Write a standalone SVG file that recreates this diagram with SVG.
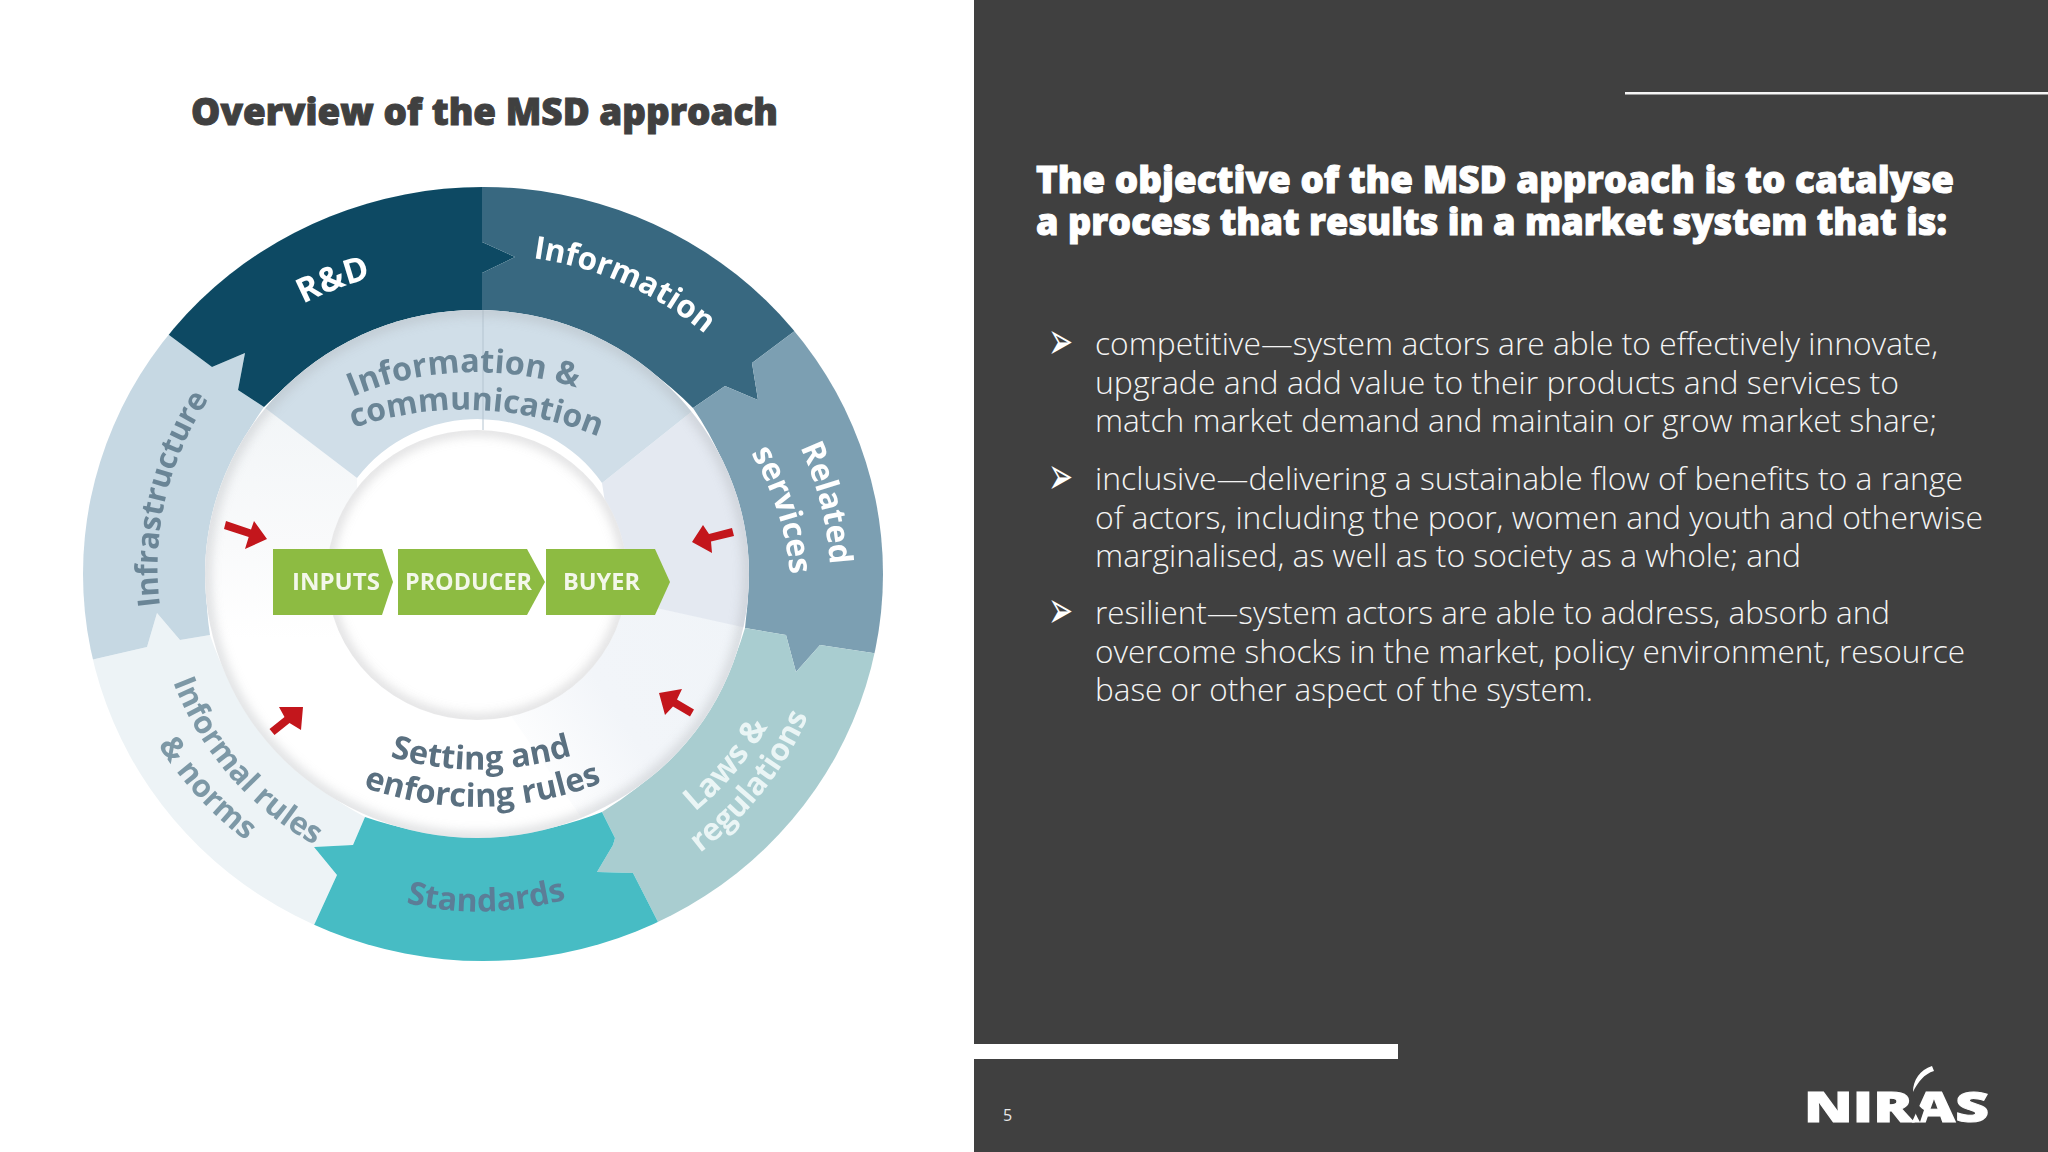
<svg xmlns="http://www.w3.org/2000/svg" xmlns:xlink="http://www.w3.org/1999/xlink" width="2048" height="1152" viewBox="0 0 2048 1152">
<style>
.t{font-family:"Open Sans","Liberation Sans",sans-serif}
.w{font-weight:700;fill:#fff}
.g{font-weight:700;fill:#6b8596}
.b{font-family:"Open Sans","Liberation Sans",sans-serif;font-weight:300;font-size:32px;fill:#f4f4f4}
.h{font-family:"Open Sans","Liberation Sans",sans-serif;font-weight:800;font-size:37px;fill:#fff;stroke:#fff;stroke-width:1px}
.m{font-family:"DejaVu Sans",sans-serif;font-size:30px;fill:#fff}
.c{font-family:"Open Sans","Liberation Sans",sans-serif;font-weight:700;font-size:23px;fill:#f3f7ea}
</style>
<defs>
<filter id="soft" x="-5%" y="-5%" width="110%" height="110%"><feGaussianBlur stdDeviation="0.7"/></filter>
<filter id="sh" x="-10%" y="-10%" width="120%" height="120%"><feGaussianBlur stdDeviation="6"/></filter>
<clipPath id="outer"><ellipse cx="483" cy="574" rx="400" ry="387"/></clipPath>
<clipPath id="mid"><ellipse cx="477" cy="574" rx="272" ry="264"/></clipPath>
<clipPath id="hole"><ellipse cx="477" cy="575" rx="150" ry="145"/></clipPath>
<linearGradient id="gl" x1="0" y1="0" x2="0" y2="1"><stop offset="0" stop-color="#f2f5f7"/><stop offset="0.6" stop-color="#f9fafb"/><stop offset="1" stop-color="#ffffff"/></linearGradient>
<linearGradient id="gr" x1="1" y1="0" x2="0" y2="0.6"><stop offset="0" stop-color="#f0f4f8"/><stop offset="0.6" stop-color="#f2f5f9"/><stop offset="1" stop-color="#ffffff"/></linearGradient>
<path id="pRD" d="M303,304 A328 316 0 0 1 375,277"/>
<path id="pInfo" d="M533,258 A334 322 0 0 1 716,344"/>
<path id="pRel" d="M800,447 A347 335 0 0 1 830,568"/>
<path id="pSer" d="M751,453 A303 292 0 0 1 790,575"/>
<path id="pLaw" d="M695,812 A326 315 0 0 0 768,726"/>
<path id="pReg" d="M700,853 A355 343 0 0 0 810,712"/>
<path id="pStd" d="M406,903 Q484,922 568,899"/>
<path id="pInf" d="M173,682 A326 315 0 0 0 318,847"/>
<path id="pNor" d="M158,745 A364 352 0 0 0 252,845"/>
<path id="pStr" d="M160,606 A324 313 0 0 1 208,400"/>
<path id="pIC1" d="M352,397 Q465,350 590,392"/>
<path id="pIC2" d="M353,428 Q477,387 602,438"/>
<path id="pSet" d="M390,757 Q480,783 574,755"/>
<path id="pEnf" d="M363,787 Q482,829 604,782"/>
</defs>
<rect id="bg" width="2048" height="1152" fill="#ffffff"/>
<g id="panel">
<rect x="974" y="0" width="1074" height="1152" fill="#404040"/>
<rect x="974" y="1044" width="424" height="15" fill="#ffffff"/>
<rect x="1625" y="92" width="423" height="2.5" fill="#f5f5f5"/>
</g>
<text id="title" x="191" y="125" font-family="'Open Sans','Liberation Sans',sans-serif" font-weight="800" font-size="37" fill="#404040" stroke="#404040" stroke-width="1" textLength="587" lengthAdjust="spacingAndGlyphs">Overview of the MSD approach</text>
<g id="wheel" filter="url(#soft)">
<g clip-path="url(#outer)">
<g id="n-informal"><path d="M308,937 L315,923 337,875 314,847 353,845 365,817 A330 320 0 0 1 210,635 L180,640 157,613 147,647 95,659 80,663 A340 330 0 0 0 308,937 Z" fill="#edf3f6"/>
<text class="t" font-size="31" font-weight="700" fill="#7d98a6"><textPath xlink:href="#pInf" href="#pInf">Informal rules</textPath></text>
<text class="t" font-size="31" font-weight="700" fill="#7d98a6"><textPath xlink:href="#pNor" href="#pNor">&amp; norms</textPath></text></g>
<g id="n-infrastructure"><path d="M80,663 A340 330 0 0 1 157,326 L169,335 212,367 245,353 238,390 264,407 A330 320 0 0 0 210,635 L180,640 157,613 147,647 95,659 Z" fill="#c6d8e3"/>
<text class="t g" font-size="30.5"><textPath xlink:href="#pStr" href="#pStr">Infrastructure</textPath></text></g>
<g id="n-rd"><path d="M482,188 L482,170 L300,170 A340 330 0 0 0 157,326 L169,335 212,367 245,353 238,390 264,407 A330 320 0 0 1 482,310 L482,273 515,257 482,242 Z" fill="#0b4a63"/>
<text class="t w" font-size="34"><textPath xlink:href="#pRD" href="#pRD">R&amp;D</textPath></text></g>
<g id="n-information"><path d="M482,170 L660,170 A340 330 0 0 1 804,324 L792,333 752,363 758,400 725,386 693,408 A330 320 0 0 0 482,310 L482,273 515,257 482,242 Z" fill="#376880"/>
<text class="t w" font-size="31.5"><textPath xlink:href="#pInfo" href="#pInfo">Information</textPath></text></g>
<g id="n-related"><path d="M804,324 A340 330 0 0 1 889,657 L873,653 820,645 796,672 786,635 745,628 A330 320 0 0 0 693,408 L725,386 758,400 752,363 792,333 Z" fill="#7c9fb2"/>
<text class="t w" font-size="32"><textPath xlink:href="#pRel" href="#pRel">Related</textPath></text>
<text class="t w" font-size="32"><textPath xlink:href="#pSer" href="#pSer">services</textPath></text></g>
<g id="n-laws"><path d="M889,657 A340 330 0 0 1 663,932 L656,918 633,873 597,872 613,845 615,838 602,812 A330 320 0 0 0 745,628 L786,635 796,672 820,645 873,653 Z" fill="#a9cdd0"/>
<text class="t" font-size="32" font-weight="700" fill="#eaf5f5"><textPath xlink:href="#pLaw" href="#pLaw">Laws &amp;</textPath></text>
<text class="t" font-size="31" font-weight="700" fill="#eaf5f5"><textPath xlink:href="#pReg" href="#pReg">regulations</textPath></text></g>
<g id="n-standards"><path d="M663,932 A340 330 0 0 1 308,937 L315,923 337,875 314,847 353,845 365,817 A330 320 0 0 0 602,812 L615,838 613,845 597,872 633,873 656,918 Z" fill="#46bcc4"/>
<text class="t" font-size="32" font-weight="700" fill="#5b7d97"><textPath xlink:href="#pStd" href="#pStd">Standards</textPath></text></g>
</g>
<g id="core" clip-path="url(#mid)">
<rect x="200" y="305" width="560" height="540" fill="#ffffff"/>
<path d="M255,400 L190,500 190,640 357,640 L357,478 Z" fill="url(#gl)"/>
<path d="M760,630 L650,850 590,830 500,700 L620,600 Z" fill="url(#gr)"/>
<path d="M700,405 L770,500 760,631 L620,600 602,483 Z" fill="#e4e9f1"/>
<path id="n-infocomm" d="M252,398 L200,300 760,300 700,405 L602,483 A150 145 0 0 0 357,478 Z" fill="#d0dee8"/>
<line x1="483" y1="305" x2="483" y2="430" stroke="#b4c4d0" stroke-width="1"/>
<ellipse cx="477" cy="574" rx="272" ry="264" fill="none" stroke="#a8acb0" stroke-width="8" filter="url(#sh)" opacity="0.55"/>
</g>
<ellipse cx="477" cy="575" rx="150" ry="145" fill="#ffffff"/>
<g clip-path="url(#hole)"><ellipse cx="477" cy="575" rx="150" ry="145" fill="none" stroke="#c0c0c2" stroke-width="8" filter="url(#sh)" opacity="0.7"/></g>
<g id="n-labels">
<text class="t g" font-size="32.5"><textPath xlink:href="#pIC1" href="#pIC1">Information &amp;</textPath></text>
<text class="t g" font-size="32"><textPath xlink:href="#pIC2" href="#pIC2">communication</textPath></text>
<text class="t" font-size="32.5" font-weight="700" fill="#5a6f80"><textPath xlink:href="#pSet" href="#pSet">Setting and</textPath></text>
<text class="t" font-size="32.5" font-weight="700" fill="#5a6f80"><textPath xlink:href="#pEnf" href="#pEnf">enforcing rules</textPath></text>
</g>
<g id="n-chain">
<g id="n-inputs"><polygon points="273,549 382,549 393,582 382,615 273,615" fill="#8dbb42"/><text class="c" x="292" y="590" textLength="88" lengthAdjust="spacingAndGlyphs">INPUTS</text></g>
<g id="n-producer"><polygon points="398,549 527,549 545,582 527,615 398,615" fill="#8dbb42"/><text class="c" x="405" y="590" textLength="127" lengthAdjust="spacingAndGlyphs">PRODUCER</text></g>
<g id="n-buyer"><polygon points="546,549 655,549 670,582 655,615 546,615" fill="#8dbb42"/><text class="c" x="563" y="590" textLength="77" lengthAdjust="spacingAndGlyphs">BUYER</text></g>
</g>
<g id="connectors" fill="#c3161c">
<polygon points="226,521 251,529.5 254,521 267,539 245,549 248.7,537 224,529"/>
<polygon points="732,528 709,534 703,525 692,542 712,553 711,541.5 734,536"/>
<polygon points="269.5,729 284.5,717 279,707 303,707 301,730 289.5,723 274.5,735"/>
<polygon points="694,709.6 677,699.6 682,689 659,693 665,715 673,706.4 690,716.4"/>
</g>
</g>
<g id="heading">
<text class="h" x="1036" y="193" textLength="918" lengthAdjust="spacingAndGlyphs">The objective of the MSD approach is to catalyse</text>
<text class="h" x="1036" y="235" textLength="911" lengthAdjust="spacingAndGlyphs">a process that results in a market system that is:</text>
</g>
<g id="bullets">
<text class="m" transform="translate(1048,359) scale(1,1.75)">➢</text>
<text class="b" x="1095" y="355" textLength="843" lengthAdjust="spacingAndGlyphs">competitive—system actors are able to effectively innovate,</text>
<text class="b" x="1095" y="393.5" textLength="804" lengthAdjust="spacingAndGlyphs">upgrade and add value to their products and services to</text>
<text class="b" x="1095" y="432" textLength="842" lengthAdjust="spacingAndGlyphs">match market demand and maintain or grow market share;</text>
<text class="m" transform="translate(1048,494) scale(1,1.75)">➢</text>
<text class="b" x="1095" y="490" textLength="868" lengthAdjust="spacingAndGlyphs">inclusive—delivering a sustainable flow of benefits to a range</text>
<text class="b" x="1095" y="528.5" textLength="888" lengthAdjust="spacingAndGlyphs">of actors, including the poor, women and youth and otherwise</text>
<text class="b" x="1095" y="567" textLength="706" lengthAdjust="spacingAndGlyphs">marginalised, as well as to society as a whole; and</text>
<text class="m" transform="translate(1048,628) scale(1,1.75)">➢</text>
<text class="b" x="1095" y="624" textLength="795" lengthAdjust="spacingAndGlyphs">resilient—system actors are able to address, absorb and</text>
<text class="b" x="1095" y="662.5" textLength="870" lengthAdjust="spacingAndGlyphs">overcome shocks in the market, policy environment, resource</text>
<text class="b" x="1095" y="701" textLength="498" lengthAdjust="spacingAndGlyphs">base or other aspect of the system.</text>
</g>
<text id="page" x="1003" y="1121" font-family="'Open Sans','Liberation Sans',sans-serif" font-size="16" fill="#e8e8e8">5</text>
<g id="logo">
<text x="1804" y="1122" font-family="'Open Sans','Liberation Sans',sans-serif" font-weight="800" font-size="42" fill="#ffffff" stroke="#ffffff" stroke-width="1" textLength="185" lengthAdjust="spacingAndGlyphs">NIRAS</text>
<path d="M1932,1066 C1920,1070 1913,1080 1913,1092 C1918,1082 1924,1074 1934,1071 Z" fill="#ffffff"/>
<path d="M1911,1092 C1911,1102 1914,1112 1920,1122 L1924,1110 C1918,1106 1915,1100 1914,1092 Z" fill="#404040"/>
</g>
</svg>
